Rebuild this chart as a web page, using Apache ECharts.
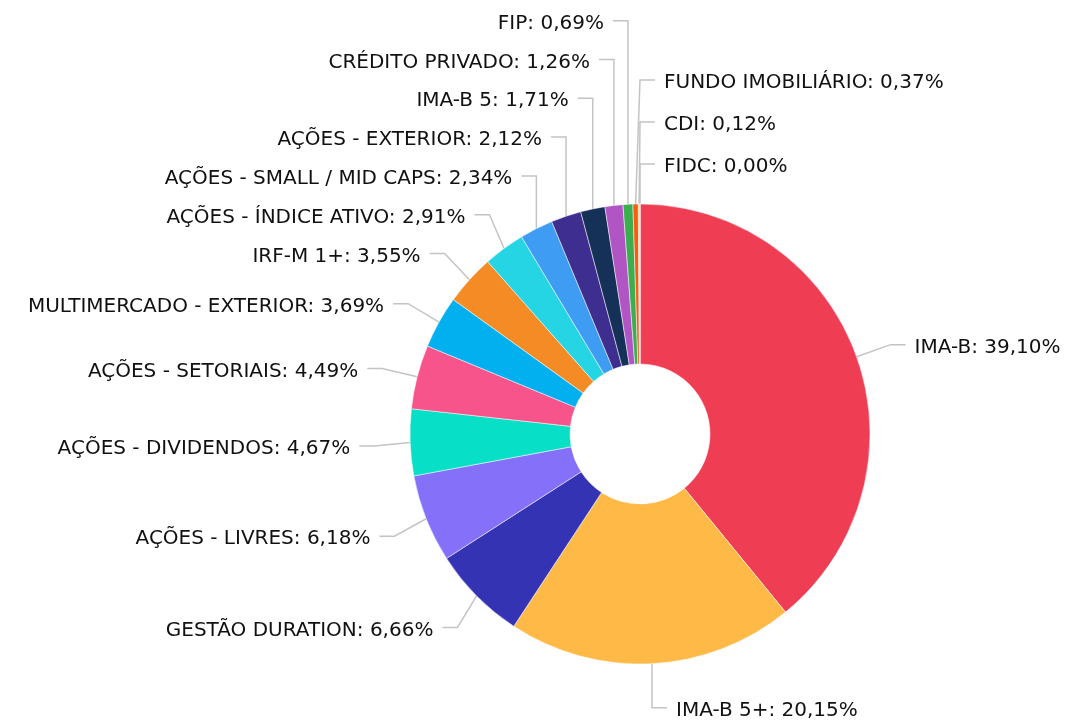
<!DOCTYPE html>
<html>
<head>
<meta charset="utf-8">
<script src="https://cdn.jsdelivr.net/npm/echarts@6/dist/echarts.min.js"></script>
<style>
  html, body { margin: 0; padding: 0; background: #fff; }
  #chart { width: 1071px; height: 720px; }
</style>
</head>
<body>
<div id="chart"></div>
<script>
// dados da carteira (%)
const categorias = [
  'IMA-B', 'IMA-B 5+', 'GESTÃO DURATION', 'AÇÕES - LIVRES', 'AÇÕES - DIVIDENDOS',
  'AÇÕES - SETORIAIS', 'MULTIMERCADO - EXTERIOR', 'IRF-M 1+', 'AÇÕES - ÍNDICE ATIVO',
  'AÇÕES - SMALL / MID CAPS', 'AÇÕES - EXTERIOR', 'IMA-B 5', 'CRÉDITO PRIVADO',
  'FIP', 'FUNDO IMOBILIÁRIO', 'CDI', 'FIDC'
]
const valores = [39.10, 20.15, 6.66, 6.18, 4.67, 4.49, 3.69, 3.55, 2.91, 2.34, 2.12, 1.71, 1.26, 0.69, 0.37, 0.12, 0.00]
const cores = [
  '#ef3d54', '#ffb946', '#3333b4', '#8570fa', '#07e0c6',
  '#f7548c', '#03b0ef', '#f58b25', '#26d5e3',
  '#3e9cf2', '#3e2e8f', '#163158', '#b055c3',
  '#3cae50', '#fb5a16', '#ffd23f', '#999999'
]

const fmt = v => v.toFixed(2).replace('.', ',') + '%'

// geometria da pizza
const CX = 640, CY = 434, R_IN = 70, R_OUT = 230
const R_LBL = 272  // raio onde os rótulos "querem" ficar
const R_DOBRA = 266 // raio da dobra do conector

// distribui os rótulos (conector com dobra), empurrando para cima/baixo
function calcRotulos () {
  const total = valores.reduce((a, b) => a + b, 0)
  let acc = 0
  const itens = valores.map((v, i) => {
    const mid = (acc + v / 2) / total * 2 * Math.PI
    acc += v
    const s = Math.sin(mid), c = Math.cos(mid)
    const side = s < -0.03 ? -1 : 1
    // angulo a partir do topo, descendo pelo lado do rótulo
    let a = mid > Math.PI ? mid - 2 * Math.PI : mid
    return {
      i,
      side,
      k: side > 0 ? a : -a,
      edge: [CX + R_OUT * s, CY - R_OUT * c],
      target: CY - R_LBL * c + 2
    }
  })
  ;[-1, 1].forEach(side => {
    const gap = side < 0 ? 38.8 : 42
    const lado = itens.filter(o => o.side === side)
    const cima = lado.filter(o => o.target < CY).sort((a, b) => b.k - a.k)
    const baixo = lado.filter(o => o.target >= CY).sort((a, b) => a.k - b.k)
    let prev = Infinity
    cima.forEach(o => { o.y = Math.min(o.target, prev - gap); prev = o.y })
    prev = -Infinity
    baixo.forEach(o => { o.y = Math.max(o.target, prev + gap); prev = o.y })
  })
  return itens.map(o => {
    const dy = o.y - CY
    const dx = Math.sqrt(Math.max(0, R_DOBRA * R_DOBRA - dy * dy))
    const bendX = o.side < 0 ? Math.min(CX - dx, o.edge[0]) : Math.max(CX + dx, o.edge[0])
    const endX = bendX + o.side * 15
    return {
      x: endX + o.side * 9,
      y: o.y + 3,
      align: o.side < 0 ? 'right' : 'left',
      verticalAlign: 'middle',
      labelLinePoints: [o.edge, [bendX, o.y], [endX, o.y]]
    }
  })
}
const rotulos = calcRotulos()

let chart = echarts.init(document.getElementById('chart'))
chart.setOption({
  animation: false,
  color: cores,
  series: [{
    type: 'pie',
    center: [CX, CY],
    radius: [R_IN, R_OUT],
    startAngle: 90,
    clockwise: true,
    minShowLabelAngle: 0,
    avoidLabelOverlap: false,
    stillShowZeroSum: true,
    itemStyle: { borderColor: '#fff', borderWidth: 0.5 },
    label: {
      show: true,
      fontFamily: 'DejaVu Sans',
      fontSize: 20,
      color: '#111',
      formatter: p => p.name + ': ' + fmt(p.value)
    },
    labelLine: {
      show: true,
      length: 15,
      length2: 15,
      lineStyle: { color: '#c4c4c4', width: 1.5 }
    },
    labelLayout: p => rotulos[p.dataIndex],
    data: categorias.map((c, i) => ({ name: c, value: valores[i] }))
  }]
})
</script>
</body>
</html>
